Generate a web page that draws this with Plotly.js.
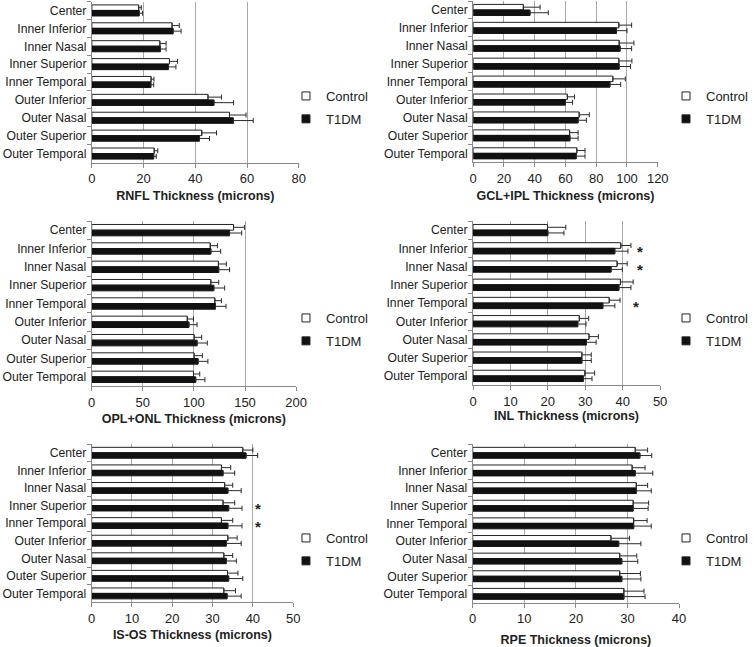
<!DOCTYPE html>
<html>
<head>
<meta charset="utf-8">
<script src="https://cdn.plot.ly/plotly-3.0.1.min.js"></script>
<style>html,body{margin:0;padding:0;background:#fff;}#chart{width:754px;height:647px;}</style>
</head>
<body>
<div id="chart"></div>
<script>
// ---------- data ----------
const regions = ["Center","Inner Inferior","Inner Nasal","Inner Superior","Inner Temporal",
                 "Outer Inferior","Outer Nasal","Outer Superior","Outer Temporal"];
const seriesNames = ["Control","T1DM"];

const rnflControl    = [18.1, 31.0, 26.3, 30.0, 22.9, 44.9, 53.2, 42.5, 24.1];
const rnflControlErr = [1.0, 2.8, 2.4, 3.1, 1.1, 5.2, 6.4, 5.7, 1.4];
const rnflT1dm       = [18.3, 31.4, 26.5, 29.6, 22.8, 47.2, 54.7, 41.6, 23.9];
const rnflT1dmErr    = [1.3, 3.1, 2.2, 2.9, 1.1, 7.6, 7.7, 3.9, 1.0];

const gclControl    = [32.6, 94.7, 94.9, 94.7, 90.8, 61.2, 68.9, 62.7, 67.4];
const gclControlErr = [10.9, 8.3, 9.6, 8.5, 8.1, 4.7, 6.6, 5.5, 5.3];
const gclT1dm       = [36.9, 93.2, 95.5, 94.9, 88.9, 59.9, 68.2, 62.9, 67.0];
const gclT1dmErr    = [11.9, 6.8, 7.5, 7.4, 7.0, 4.7, 5.4, 5.3, 5.7];

const oplControl    = [138.8, 116.0, 124.0, 116.6, 120.5, 93.5, 100.2, 100.2, 99.6];
const oplControlErr = [10.6, 7.0, 7.7, 7.7, 6.4, 6.1, 7.4, 8.1, 6.1];
const oplT1dm       = [134.9, 116.6, 124.3, 119.5, 121.1, 95.1, 103.1, 104.1, 101.8];
const oplT1dmErr    = [11.9, 9.6, 10.6, 10.6, 10.3, 8.0, 10.0, 9.6, 9.0];

const inlControl    = [19.9, 39.5, 38.5, 39.4, 36.4, 28.4, 31.0, 29.1, 29.9];
const inlControlErr = [4.9, 2.7, 2.7, 3.4, 2.9, 2.5, 2.5, 2.5, 2.6];
const inlT1dm       = [20.0, 37.9, 36.9, 39.0, 34.7, 28.0, 30.3, 29.1, 29.5];
const inlT1dmErr    = [4.3, 3.5, 3.0, 3.2, 3.2, 2.2, 2.6, 2.5, 2.3];

const isosControl    = [37.5, 32.2, 33.0, 32.6, 32.2, 33.8, 32.8, 33.7, 32.8];
const isosControlErr = [2.5, 2.3, 2.0, 2.9, 2.8, 2.3, 2.2, 2.6, 2.9];
const isosT1dm       = [38.3, 32.6, 33.8, 34.0, 33.8, 33.4, 33.4, 34.0, 33.6];
const isosT1dmErr    = [2.9, 2.9, 3.3, 3.3, 3.5, 3.7, 2.5, 3.5, 3.5];

const rpeControl    = [31.5, 30.9, 31.7, 31.1, 31.2, 26.8, 28.5, 28.5, 29.3];
const rpeControlErr = [2.4, 2.5, 2.2, 3.0, 2.6, 3.6, 3.3, 4.0, 3.9];
const rpeT1dm       = [32.4, 31.5, 31.7, 31.1, 31.2, 28.3, 28.9, 28.9, 29.3];
const rpeT1dmErr    = [2.3, 3.4, 2.9, 2.9, 3.4, 4.3, 3.1, 3.7, 4.1];

const axisTitles = ["RNFL Thickness (microns)","GCL+IPL Thickness (microns)","OPL+ONL Thickness (microns)",
                    "INL Thickness (microns)","IS-OS Thickness (microns)","RPE Thickness (microns)"];
const axisMax = [80, 120, 200, 50, 50, 40];
const axisStep = [20, 20, 50, 10, 10, 10];

// significance markers
const inlStars  = ["Inner Inferior","Inner Nasal","Inner Temporal"];
const inlStarX  = [44.7, 44.7, 43.6];
const isosStars = ["Inner Superior","Inner Temporal"];
const isosStarX = [41.3, 41.3];

// ---------- layout geometry (pixels) ----------
const W = 754, H = 647;
const panels = [
  {ctrl: rnflControl, ctrlE: rnflControlErr, t1: rnflT1dm, t1E: rnflT1dmErr, x0: 93.5, x1: 304, yTop: 1.5, yBot: 162.5, leg: [291, 81], so: 5.5},
  {ctrl: gclControl, ctrlE: gclControlErr, t1: gclT1dm, t1E: gclT1dmErr, x0: 481.5, x1: 669.3, yTop: 1, yBot: 162.3, leg: [678, 81], so: 6},
  {ctrl: oplControl, ctrlE: oplControlErr, t1: oplT1dm, t1E: oplT1dmErr, x0: 93.3, x1: 301.3, yTop: 221, yBot: 386, leg: [291, 303], so: 5.3},
  {ctrl: inlControl, ctrlE: inlControlErr, t1: inlT1dm, t1E: inlT1dmErr, x0: 481.3, x1: 671.7, yTop: 221, yBot: 385, leg: [678, 303], so: 2.5},
  {ctrl: isosControl, ctrlE: isosControlErr, t1: isosT1dm, t1E: isosT1dmErr, x0: 93.3, x1: 298.3, yTop: 444, yBot: 602.2, leg: [291, 523], so: 5},
  {ctrl: rpeControl, ctrlE: rpeControlErr, t1: rpeT1dm, t1E: rpeT1dmErr, x0: 481, x1: 691, yTop: 444, yBot: 602.7, leg: [678, 523], so: 11}
];

const FONT = "Liberation Sans, Arial, Helvetica, sans-serif";
const GRID = "#a8a8a8";
const TXT = "#1a1a1a";

const traces = [];
const layout = {
  width: W, height: H,
  margin: {l: 0, r: 0, t: 0, b: 0},
  paper_bgcolor: "#fff", plot_bgcolor: "#fff",
  font: {family: FONT, size: 12, color: TXT},
  barmode: "group", bargap: 0.38, bargroupgap: 0,
  showlegend: true,
  annotations: []
};

const fills = ["#ffffff", "#111111"];
const edges = ["#222222", "#111111"];

panels.forEach((p, i) => {
  const n = i + 1;
  const xa = n === 1 ? "x" : "x" + n;
  const ya = n === 1 ? "y" : "y" + n;
  const legName = n === 1 ? "legend" : "legend" + n;
  const errStyle = {type: "data", symmetric: false, color: "#2a2a2a", thickness: 1, width: 2.5};
  const vals = [p.ctrl, p.t1];
  const errs = [p.ctrlE, p.t1E];
  for (let s = 0; s < 2; s++) {
    traces.push({
      type: "bar", orientation: "h", name: seriesNames[s], y: regions, x: vals[s],
      xaxis: xa, yaxis: ya, showlegend: false, legendgroup: "s" + s + "p" + n,
      marker: {color: fills[s], line: {color: edges[s], width: 1}},
      error_x: Object.assign({array: errs[s], arrayminus: errs[s].map(() => 0)}, errStyle)
    });
  }
  // legend keys (small squares like the original)
  for (let s = 0; s < 2; s++) {
    traces.push({
      type: "scatter", mode: "markers", name: seriesNames[s], x: [null], y: [null],
      xaxis: xa, yaxis: ya, legend: legName, legendgroup: "s" + s + "p" + n, showlegend: true,
      marker: {symbol: "square", size: 8, color: fills[s], line: {color: "#222", width: 1}},
      hoverinfo: "skip"
    });
  }
  layout[n === 1 ? "xaxis" : "xaxis" + n] = {
    domain: [p.x0 / W, p.x1 / W], anchor: ya,
    range: [0, axisMax[i]], dtick: axisStep[i], tick0: 0,
    showgrid: true, gridcolor: GRID, gridwidth: 1, zeroline: false,
    showline: true, linecolor: "#888", linewidth: 1,
    ticks: "outside", ticklen: 4, tickcolor: "#888",
    tickfont: {size: 13, color: "#222"},
    title: {text: "<b>" + axisTitles[i] + "</b>", font: {size: 12.5, color: "#222"}, standoff: p.so},
    fixedrange: true
  };
  layout[n === 1 ? "yaxis" : "yaxis" + n] = {
    domain: [1 - p.yBot / H, 1 - p.yTop / H], anchor: xa,
    type: "category", autorange: "reversed",
    showgrid: false, zeroline: false,
    showline: true, linecolor: "#888", linewidth: 1,
    ticks: "outside", ticklen: 4, tickcolor: "#888", tickson: "boundaries",
    ticklabelstandoff: 2,
    tickfont: {size: 12.2, color: "#222"},
    fixedrange: true
  };
  layout[legName] = {
    x: p.leg[0] / W, y: 1 - p.leg[1] / H, xanchor: "left", yanchor: "top",
    bgcolor: "rgba(0,0,0,0)", font: {size: 13, color: "#222"},
    traceorder: "grouped", tracegroupgap: 3, itemsizing: "trace"
  };
});

function addStars(names, xs, n) {
  names.forEach((nm, k) => {
    layout.annotations.push({
      xref: "x" + n, yref: "y" + n, x: xs[k], y: nm, text: "<b>*</b>",
      showarrow: false, font: {size: 15, color: "#222"}, yshift: -3
    });
  });
}
addStars(inlStars, inlStarX, 4);
addStars(isosStars, isosStarX, 5);

Plotly.newPlot("chart", traces, layout, {displayModeBar: false, staticPlot: true});
</script>
</body>
</html>
